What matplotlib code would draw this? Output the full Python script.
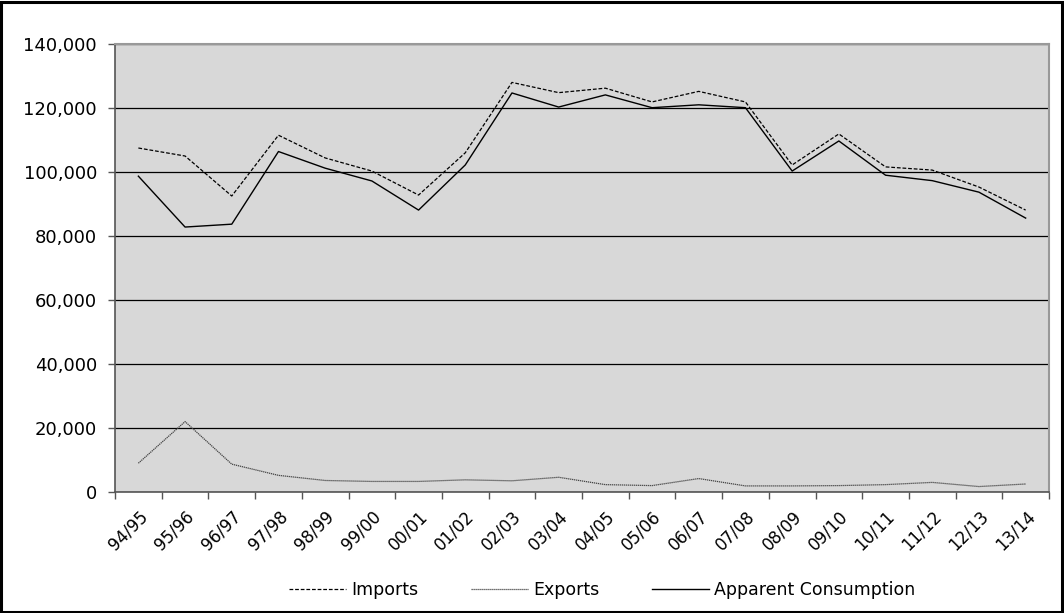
import matplotlib
matplotlib.use("Agg")
import matplotlib.pyplot as plt
import numpy as np
from matplotlib.ticker import FuncFormatter, FixedLocator

years = ["94/95", "95/96", "96/97", "97/98", "98/99", "99/00", "00/01", "01/02", "02/03", "03/04",
         "04/05", "05/06", "06/07", "07/08", "08/09", "09/10", "10/11", "11/12", "12/13", "13/14"]
imports = [107500, 105000, 92500, 111500, 104400, 100300, 92800, 106000, 128000, 124800,
           126200, 121900, 125200, 121900, 102200, 111900, 101600, 100600, 95300, 88100]
exports = [9000, 22000, 8700, 5200, 3600, 3300, 3300, 3800, 3500, 4600,
           2300, 2000, 4200, 1900, 1900, 2000, 2300, 3000, 1700, 2500]
consumption = [98700, 82800, 83700, 106400, 101200, 97200, 88100, 102200, 124700, 120300,
               124100, 120100, 121000, 120100, 100300, 109700, 99000, 97300, 93700, 85600]

plt.rcParams['font.family'] = ['DejaVu Sans']
fig = plt.figure(figsize=(10.64, 6.13), dpi=100)
fig.patch.set_facecolor('white')
# outer frame
fig.patches.append(plt.Rectangle((0.001, 0.002), 0.997, 0.995, transform=fig.transFigure,
                                 fill=False, edgecolor='black', linewidth=2.2))

ax = fig.add_axes([0.1081, 0.1974, 0.8778, 0.7308])
ax.set_facecolor('#d8d8d8')
x = np.arange(len(years))
ax.plot(x, imports, color='black', linewidth=0.9, linestyle=(0, (3, 1.5)), label='Imports')
ax.plot(x, exports, color='#444444', linewidth=0.9, linestyle=(0, (1, 0.6)), label='Exports')
ax.plot(x, consumption, color='black', linewidth=1.0, linestyle='-', label='Apparent Consumption')

ax.set_xlim(-0.5, len(years) - 0.5)
ax.set_ylim(0, 140000)
ax.set_yticks(np.arange(0, 140001, 20000))
ax.yaxis.set_major_formatter(FuncFormatter(lambda v, p: f"{int(v):,}"))
ax.yaxis.grid(True, color='black', linewidth=0.9)
ax.set_axisbelow(True)

ax.set_xticks(x)
ax.set_xticklabels(years, rotation=45, ha='right', rotation_mode='anchor', fontsize=12)
ax.tick_params(axis='x', length=0, pad=11)
ax.xaxis.set_minor_locator(FixedLocator(np.arange(-0.5, len(years), 1)))
ax.tick_params(axis='x', which='minor', length=5, color='#555555', width=1)
ax.tick_params(axis='y', length=5, color='#555555', width=1, labelsize=13, pad=8)

for s in ['top', 'right']:
    ax.spines[s].set_color('#999999')
    ax.spines[s].set_linewidth(1.5)
for s in ['left', 'bottom']:
    ax.spines[s].set_color('#555555')
    ax.spines[s].set_linewidth(1.2)

leg = fig.legend(loc='center', bbox_to_anchor=(0.566, 0.038), ncol=3, frameon=False,
                 fontsize=12.5, handlelength=3.3, handletextpad=0.3, columnspacing=3.0)

fig.savefig('out.png', dpi=100, facecolor='white')
